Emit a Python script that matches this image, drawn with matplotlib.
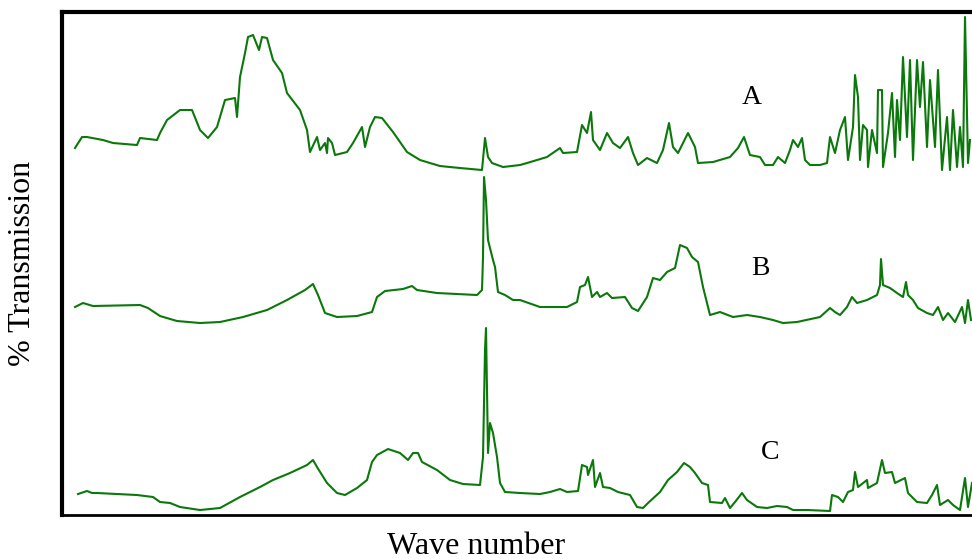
import matplotlib
matplotlib.use("Agg")
import matplotlib.pyplot as plt

# values (arbitrary wave-number index, relative transmission)
a_x = [13, 20, 25, 41, 51, 75, 78, 95, 98, 105, 118, 130, 138, 146, 155, 163, 173, 175, 178, 183,
       186, 191, 197, 200, 205, 211, 220, 225, 238, 245, 248, 255, 258, 263, 265, 266, 270, 273, 285, 291,
       300, 303, 308, 313, 320, 331, 345, 358, 378, 398, 420, 423, 426, 430, 441, 458, 465, 485, 498, 501,
       515, 520, 525, 529, 531, 538, 545, 551, 558, 566, 571, 576, 585, 595, 601, 607, 611, 616, 621, 626,
       633, 636, 651, 668, 676, 682, 688, 698, 703, 711, 716, 723, 728, 731, 736, 740, 743, 748, 758, 765,
       768, 773, 778, 783, 786, 791, 793, 796, 798, 801, 805, 806, 810, 815, 816, 820, 821, 826, 830, 833,
       835, 838, 841, 845, 848, 851, 855, 858, 861, 865, 868, 873, 876, 880, 885, 888, 891, 895, 898, 901,
       903, 906, 908]
a_y = [367, 378, 378, 375, 372, 370, 377, 375, 382, 395, 405, 405, 385, 377, 388, 415, 417, 398, 438, 462,
       478, 480, 465, 478, 477, 455, 442, 422, 405, 385, 363, 378, 365, 372, 362, 377, 372, 360, 363, 372,
       388, 368, 388, 398, 397, 383, 363, 355, 349, 347, 345, 377, 358, 352, 348, 350, 352, 358, 367, 362,
       363, 390, 382, 403, 375, 365, 382, 372, 367, 378, 362, 350, 357, 352, 365, 392, 368, 362, 372, 382,
       368, 352, 353, 358, 367, 378, 360, 358, 350, 350, 358, 352, 365, 375, 368, 377, 355, 350, 350, 352,
       378, 362, 385, 398, 355, 388, 440, 418, 355, 390, 385, 348, 385, 362, 425, 425, 348, 382, 422, 358,
       415, 375, 458, 378, 455, 355, 455, 408, 453, 368, 435, 368, 445, 345, 398, 345, 405, 348, 388, 348,
       498, 352, 375]

b_x = [13, 21, 31, 78, 86, 98, 115, 138, 158, 181, 205, 225, 243, 251, 256, 263, 275, 295, 310, 315,
       323, 341, 350, 355, 375, 415, 420, 421, 422, 424, 426, 431, 433, 436, 443, 451, 458, 478, 505, 515,
       518, 523, 526, 530, 535, 538, 545, 550, 563, 570, 576, 585, 591, 598, 605, 613, 618, 625, 630, 636,
       641, 646, 648, 658, 671, 685, 698, 711, 721, 735, 758, 768, 773, 778, 785, 790, 795, 805, 815, 818,
       819, 821, 828, 835, 841, 844, 846, 851, 856, 865, 871, 876, 881, 886, 893, 900, 903, 906, 909]
b_y = [208, 212, 209, 210, 207, 199, 194, 192, 193, 198, 205, 215, 225, 231, 220, 202, 198, 199, 203, 218,
       224, 226, 229, 225, 222, 220, 225, 258, 338, 315, 275, 255, 248, 223, 220, 215, 215, 208, 208, 213,
       228, 230, 238, 218, 223, 218, 222, 217, 218, 207, 204, 218, 237, 235, 243, 247, 270, 267, 258, 253,
       228, 208, 200, 203, 198, 200, 198, 195, 192, 193, 198, 207, 203, 200, 208, 218, 212, 215, 220, 230,
       256, 230, 227, 222, 218, 233, 220, 215, 207, 202, 200, 208, 195, 202, 193, 208, 192, 215, 195]

c_x = [16, 25, 30, 35, 75, 91, 98, 108, 118, 138, 158, 178, 198, 211, 228, 245, 251, 255, 265, 275,
       283, 295, 305, 310, 315, 326, 338, 346, 351, 356, 360, 375, 388, 401, 418, 421, 423, 424, 426, 428,
       431, 435, 438, 443, 458, 478, 488, 498, 505, 516, 520, 525, 526, 531, 533, 538, 541, 548, 556, 568,
       575, 581, 586, 598, 606, 615, 622, 628, 633, 640, 646, 648, 660, 663, 668, 673, 680, 685, 695, 705,
       715, 725, 731, 745, 768, 770, 776, 781, 786, 791, 793, 796, 805, 806, 815, 820, 823, 830, 833, 843,
       846, 855, 865, 870, 875, 878, 886, 891, 898, 903, 906, 910]
c_y = [21, 24, 22, 22, 20, 18, 13, 12, 8, 5, 7, 18, 28, 35, 42, 50, 55, 48, 32, 22,
       20, 27, 35, 53, 60, 66, 62, 55, 62, 62, 53, 45, 35, 31, 30, 58, 165, 187, 62, 92,
       82, 58, 32, 23, 22, 21, 23, 26, 23, 24, 50, 48, 40, 55, 28, 42, 28, 27, 23, 20,
       8, 7, 12, 23, 35, 43, 52, 48, 42, 32, 30, 13, 12, 17, 7, 13, 22, 15, 8, 7,
       9, 8, 5, 5, 4, 20, 18, 13, 23, 25, 43, 28, 35, 27, 32, 55, 42, 43, 32, 37,
       22, 13, 12, 20, 30, 10, 15, 10, 5, 37, 8, 32]

labels = ["A", "B", "C"]

fig = plt.figure(figsize=(9.72, 5.59), dpi=100)
ax = fig.add_axes([0.0638, 0.0787, 0.9362, 0.8998])

green = "#0a780a"
for xs, ys in [(a_x, a_y), (b_x, b_y), (c_x, c_y)]:
    ax.plot(xs, ys, color=green, lw=1.5)

serif = "Liberation Serif"
ax.text(690, 418, labels[0], fontsize=20, family=serif, ha="center", va="center")
ax.text(698, 247, labels[1], fontsize=20, family=serif, ha="center", va="center")
ax.text(708, 63, labels[2], fontsize=20, family=serif, ha="center", va="center")

ax.set_xlim(0, 910)
ax.set_ylim(0, 503)
ax.set_xticks([])
ax.set_yticks([])
ax.spines["right"].set_visible(False)
ax.spines["top"].set_linewidth(3)
ax.spines["left"].set_linewidth(3)
ax.spines["bottom"].set_linewidth(2)

ax.set_xlabel("Wave number", fontsize=23, family=serif)
ax.xaxis.set_label_coords(0.455, -0.033)
ax.set_ylabel("% Transmission", fontsize=23, family=serif, labelpad=18)

fig.savefig("out.png", dpi=100)
